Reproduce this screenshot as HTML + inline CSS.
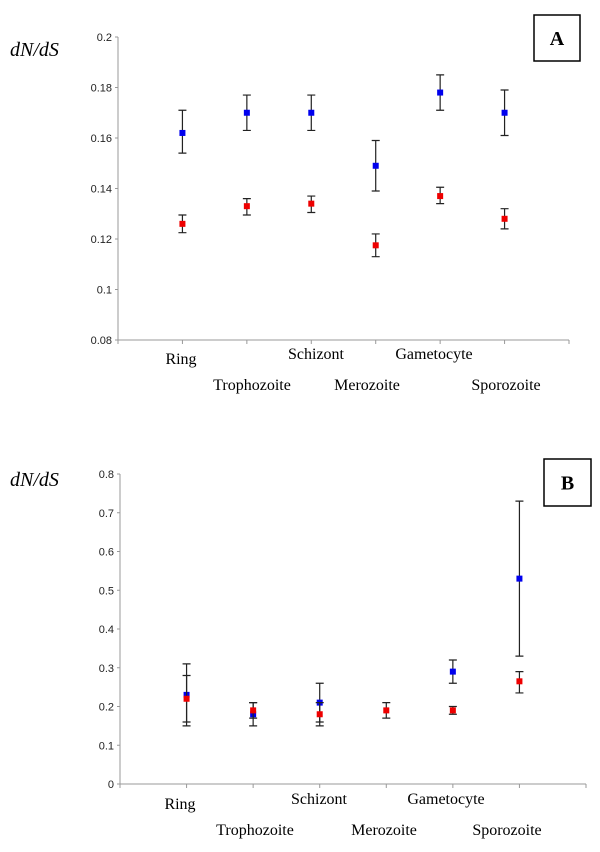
<!DOCTYPE html>
<html><head><meta charset="utf-8"><style>
html,body{margin:0;padding:0;background:#fff;}
svg{display:block;}
</style></head><body>
<svg id="chart" width="600" height="852" xmlns="http://www.w3.org/2000/svg"></svg>
<script>
const categories = ["Ring","Trophozoite","Schizont","Merozoite","Gametocyte","Sporozoite"];
const aTicks = [0.08,0.1,0.12,0.14,0.16,0.18,0.2];
const aTickLabels = ["0.08","0.1","0.12","0.14","0.16","0.18","0.2"];
const aBlue = [0.162,0.170,0.170,0.149,0.178,0.170];
const aBlueLo = [0.154,0.163,0.163,0.139,0.171,0.161];
const aBlueHi = [0.171,0.177,0.177,0.159,0.185,0.179];
const aRed = [0.126,0.133,0.134,0.1175,0.137,0.128];
const aRedLo = [0.1225,0.1295,0.1305,0.113,0.134,0.124];
const aRedHi = [0.1295,0.136,0.137,0.122,0.1405,0.132];
const bTicks = [0,0.1,0.2,0.3,0.4,0.5,0.6,0.7,0.8];
const bTickLabels = ["0","0.1","0.2","0.3","0.4","0.5","0.6","0.7","0.8"];
const bBlue = [0.23,0.18,0.21,null,0.29,0.53];
const bBlueLo = [0.15,0.15,0.16,null,0.26,0.33];
const bBlueHi = [0.31,0.21,0.26,null,0.32,0.73];
const bRed = [0.22,0.19,0.18,0.19,0.19,0.265];
const bRedLo = [0.16,0.17,0.15,0.17,0.18,0.235];
const bRedHi = [0.28,0.21,0.21,0.21,0.20,0.29];

const NS="http://www.w3.org/2000/svg";
const svg=document.getElementById('chart');
function mk(tag,attrs,parent){const e=document.createElementNS(NS,tag);for(const k in attrs)e.setAttribute(k,attrs[k]);(parent||svg).appendChild(e);return e;}

function panel(cfg){
  const g=mk('g',{});
  
  
  const y=v=>cfg.y0+(v-cfg.vmin)/(cfg.vmax-cfg.vmin)*(cfg.y1-cfg.y0);
  const band=(cfg.x1-cfg.x0)/(categories.length+1);
  const x=i=>cfg.x0+band*(i+1);
  const ax=mk('line',{x1:cfg.x0,y1:y(cfg.vmax),x2:cfg.x0,y2:y(cfg.vmin),stroke:'#999','stroke-width':1},g);
  
  
  const xx=mk('line',{x1:cfg.x0,y1:y(cfg.vmin),x2:cfg.x1,y2:y(cfg.vmin),stroke:'#999','stroke-width':1},g);
  
  
  cfg.ticks.forEach((t,i)=>{
    mk('line',{x1:cfg.x0-3,y1:y(t),x2:cfg.x0,y2:y(t),stroke:'#999'},g);
    const tl=mk('text',{x:cfg.x0-6,y:y(t)+4,'text-anchor':'end','font-family':'Liberation Sans, sans-serif','font-size':11,fill:'#222'},g);
    tl.textContent=cfg.tickLabels[i];
    
    
  });
  for(let i=0;i<=categories.length+1;i++){
    const tx=cfg.x0+band*i;
    mk('line',{x1:tx,y1:y(cfg.vmin),x2:tx,y2:y(cfg.vmin)+4,stroke:'#999'},g);
  }
  categories.forEach((c,i)=>{
    const row=(i%2===0)?cfg.row1:cfg.row2;
    const yy=(i===0)?row+cfg.ringDy:row;
    const t=mk('text',{x:cfg.labelX[i],y:yy,'text-anchor':'middle','font-family':'Liberation Serif, serif','font-size':16,fill:'#000'},g);
    t.textContent=c;
    
    
  });
  function series(vals,lo,hi,color,nm){
    vals.forEach((v,i)=>{
      if(v===null)return;
      const cx=x(i);
      const eb=mk('path',{d:`M${cx},${y(lo[i])}V${y(hi[i])}M${cx-4},${y(lo[i])}H${cx+4}M${cx-4},${y(hi[i])}H${cx+4}`,stroke:'#222','stroke-width':1.2,fill:'none'},g);
      
      
      const p=mk('rect',{x:cx-3,y:y(v)-3,width:6,height:6,fill:color},g);
      
      
    });
  }
  series(cfg.blue,cfg.blueLo,cfg.blueHi,'#0000ee','blue');
  series(cfg.red,cfg.redLo,cfg.redHi,'#ee0000','red');
  const yt=mk('text',{x:10,y:cfg.titleY,'font-family':'Liberation Serif, serif','font-style':'italic','font-size':20,fill:'#000'},g);
  yt.textContent='dN/dS';
  
  
  const b=mk('rect',{x:cfg.box[0],y:cfg.box[1],width:cfg.box[2],height:cfg.box[3],fill:'#fff',stroke:'#000','stroke-width':1.5},g);
  
  
  const bt=mk('text',{x:cfg.box[0]+cfg.box[2]/2,y:cfg.box[1]+cfg.box[3]/2+7,'text-anchor':'middle','font-family':'Liberation Serif, serif','font-weight':'bold','font-size':20},g);
  bt.textContent=cfg.letter;
  
  
}

panel({name:'panel-a',x0:118,x1:569,y0:340,y1:37,vmin:0.08,vmax:0.2,ticks:aTicks,tickLabels:aTickLabels,
  blue:aBlue,blueLo:aBlueLo,blueHi:aBlueHi,red:aRed,redLo:aRedLo,redHi:aRedHi,
  row1:359,row2:390,ringDy:5,labelX:[181,252,316,367,434,506],titleY:56,box:[534,15,46,46],letter:'A'});
panel({name:'panel-b',x0:120,x1:586,y0:784,y1:474,vmin:0,vmax:0.8,ticks:bTicks,tickLabels:bTickLabels,
  blue:bBlue,blueLo:bBlueLo,blueHi:bBlueHi,red:bRed,redLo:bRedLo,redHi:bRedHi,
  row1:804,row2:835,ringDy:5,labelX:[180,255,319,384,446,507],titleY:486,box:[544,459,47,47],letter:'B'});
</script>
</body></html>
